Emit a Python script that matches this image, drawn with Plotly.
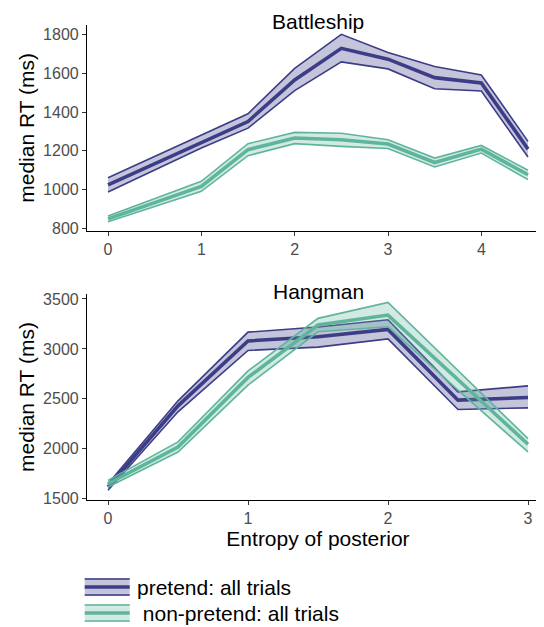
import plotly.graph_objects as go

# ---------------- data ----------------
bs_x = [0, 1, 1.5, 2, 2.5, 3, 3.5, 4, 4.5]
bs_pretend_mean = [1025, 1245, 1351, 1565, 1728, 1672, 1577, 1550, 1209]
bs_pretend_hi = [1062, 1280, 1391, 1625, 1800, 1706, 1634, 1591, 1249]
bs_pretend_lo = [988, 1215, 1317, 1510, 1658, 1622, 1520, 1508, 1168]
bs_non_mean = [850, 1017, 1206, 1266, 1257, 1235, 1140, 1209, 1077]
bs_non_hi = [865, 1043, 1237, 1295, 1291, 1257, 1163, 1228, 1100]
bs_non_lo = [835, 992, 1175, 1237, 1223, 1212, 1117, 1189, 1052]

hm_x = [0, 0.5, 1, 1.5, 2, 2.5, 3]
hm_pretend_mean = [1617, 2430, 3080, 3122, 3195, 2487, 2513]
hm_pretend_hi = [1650, 2480, 3168, 3220, 3292, 2570, 2630]
hm_pretend_lo = [1584, 2370, 2985, 3018, 3100, 2393, 2410]
hm_non_mean = [1650, 2018, 2715, 3239, 3339, 2687, 2045]
hm_non_hi = [1684, 2069, 2780, 3306, 3465, 2788, 2102]
hm_non_lo = [1617, 1968, 2637, 3172, 3222, 2587, 1968]

bs_ticks = [800, 1000, 1200, 1400, 1600, 1800]
hm_ticks = [1500, 2000, 2500, 3000, 3500]

series_names = ["pretend: all trials", " non-pretend: all trials"]
line_colors = ["#3d3d87", "#5fb59c"]
fill_colors = ["rgba(61,61,135,0.30)", "rgba(95,181,156,0.28)"]

FONT = "Liberation Sans, Arial, Helvetica, sans-serif"
TXT = 21

# page has an 8px body margin: figure origin is at page (8, 8)
OFF = 8
W, H = 560, 627 - OFF
L, R_EDGE, TOP, BOT = 87.3 - OFF, 549 - OFF, 25 - OFF, 500 - OFF

fig = go.Figure()


def add_band(x, lo, hi, mean, ci, xa, ya):
    fig.add_trace(go.Scatter(x=x, y=lo, mode="lines", line=dict(color=line_colors[ci], width=1.6),
                             xaxis=xa, yaxis=ya, showlegend=False, hoverinfo="skip"))
    fig.add_trace(go.Scatter(x=x, y=hi, mode="lines", line=dict(color=line_colors[ci], width=1.6),
                             fill="tonexty", fillcolor=fill_colors[ci],
                             xaxis=xa, yaxis=ya, showlegend=False, hoverinfo="skip"))
    fig.add_trace(go.Scatter(x=x, y=mean, mode="lines", line=dict(color=line_colors[ci], width=3.6),
                             xaxis=xa, yaxis=ya, showlegend=False))


add_band(bs_x, bs_pretend_lo, bs_pretend_hi, bs_pretend_mean, 0, "x", "y")
add_band(bs_x, bs_non_lo, bs_non_hi, bs_non_mean, 1, "x", "y")
add_band(hm_x, hm_pretend_lo, hm_pretend_hi, hm_pretend_mean, 0, "x2", "y2")
add_band(hm_x, hm_non_lo, hm_non_hi, hm_non_mean, 1, "x2", "y2")

axis_common = dict(showgrid=False, zeroline=False, showline=True, linecolor="black", linewidth=1.2,
                   ticks="outside", ticklen=4, tickcolor="#333333", tickwidth=1,
                   tickfont=dict(family=FONT, size=16, color="#4d4d4d"))

PH = BOT - TOP  # plot height in px


def py2y(py):
    return (BOT - (py - OFF)) / PH


def px2x(px):
    return (px - OFF - L) / (R_EDGE - L)


fig.update_layout(
    width=W, height=H,
    margin=dict(l=L, r=W - R_EDGE, t=TOP, b=H - BOT),
    paper_bgcolor="white", plot_bgcolor="white",
    font=dict(family=FONT),
    showlegend=False,
    xaxis=dict(domain=[0, 1], anchor="y", range=[-0.225, 4.725], tickvals=[0, 1, 2, 3, 4], **axis_common),
    yaxis=dict(domain=[py2y(230.7), 1], anchor="x", range=[789, 1848], tickvals=bs_ticks,
               title=dict(text="median RT (ms)", font=dict(family=FONT, size=TXT, color="black"), standoff=2),
               **axis_common),
    xaxis2=dict(domain=[0, 1], anchor="y2", range=[-0.15, 3.15], tickvals=[0, 1, 2, 3],
                title=dict(text="Entropy of posterior", font=dict(family=FONT, size=TXT, color="black"), standoff=0),
                **axis_common),
    yaxis2=dict(domain=[0, py2y(294)], anchor="x2", range=[1487, 3550], tickvals=hm_ticks,
                title=dict(text="median RT (ms)", font=dict(family=FONT, size=TXT, color="black"), standoff=2),
                **axis_common),
)

# panel titles
for txt, ypage in [("Battleship", 22), ("Hangman", 291)]:
    fig.add_annotation(text=txt, x=0.5, y=py2y(ypage), xref="paper", yref="paper",
                       xanchor="center", yanchor="middle",
                       showarrow=False, font=dict(family=FONT, size=TXT, color="black"))

# custom legend (key glyphs drawn in paper space)
key_rows = [(587, 0), (613, 1)]
for yc, ci in key_rows:
    x0, x1 = px2x(85), px2x(130)
    fig.add_shape(type="rect", xref="paper", yref="paper", x0=x0, x1=x1, y0=py2y(yc + 9), y1=py2y(yc - 9),
                  fillcolor=fill_colors[ci], line=dict(width=0))
    for dy, w in [(-8, 1.6), (8, 1.6), (0, 3.6)]:
        fig.add_shape(type="line", xref="paper", yref="paper", x0=x0, x1=x1, y0=py2y(yc + dy), y1=py2y(yc + dy),
                      line=dict(color=line_colors[ci], width=w))
    fig.add_annotation(text=series_names[ci], x=px2x(135), y=py2y(yc), xref="paper", yref="paper",
                       xanchor="left", yanchor="middle", showarrow=False,
                       font=dict(family=FONT, size=TXT, color="black"))

fig.write_html("out.html")
